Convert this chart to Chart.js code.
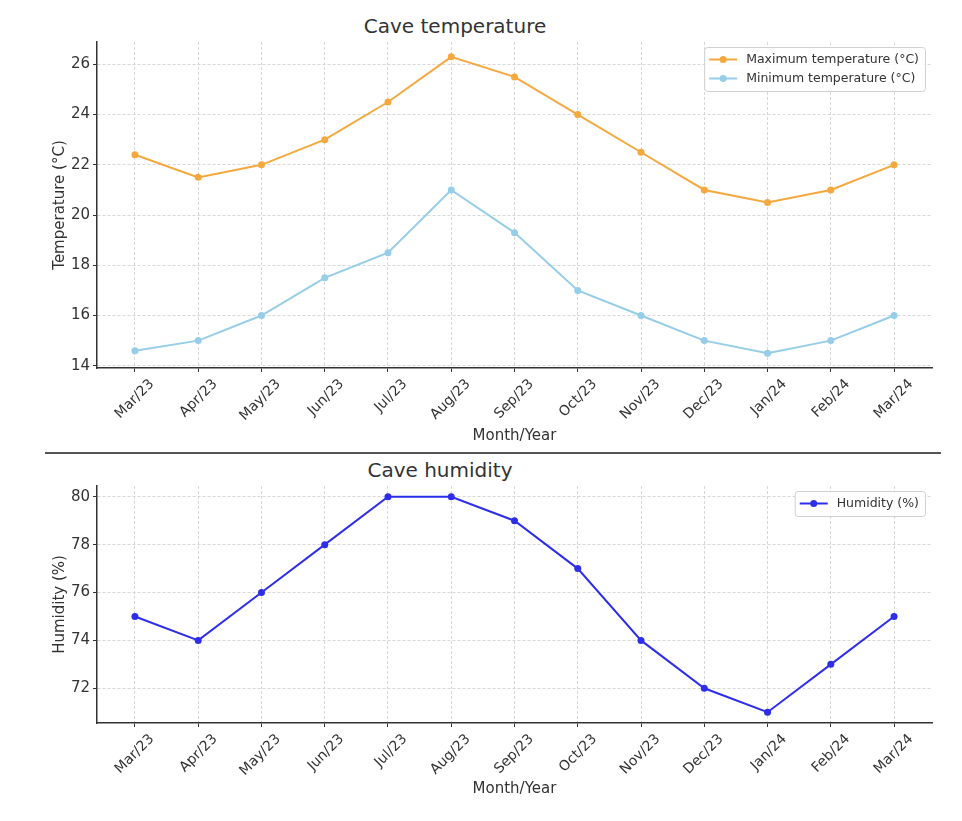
<!DOCTYPE html>
<html>
<head>
<meta charset="utf-8">
<script src="https://cdn.jsdelivr.net/npm/chart.js@4/dist/chart.umd.min.js"></script>
<style>
  html, body { margin: 0; padding: 0; background: #fff; }
  #wrap { position: relative; width: 962px; height: 821px; overflow: hidden; font-family: "DejaVu Sans", sans-serif; }
  canvas { position: absolute; left: 0; }
  .ttl { position: absolute; text-align: center; font-size: 20px; line-height: 24px; color: #333; font-family: "DejaVu Sans", sans-serif; }
  #sep { position: absolute; left: 45px; top: 452px; width: 896px; height: 2px; background: #555; }
</style>
</head>
<body>
<div id="wrap">
  <div class="ttl" style="left:0;width:910px;top:14px;">Cave temperature</div>
  <canvas id="c1" width="962" height="450" style="top:0;width:962px;height:450px;"></canvas>
  <div id="sep"></div>
  <div class="ttl" style="left:0;width:880px;top:458px;">Cave humidity</div>
  <canvas id="c2" width="962" height="366" style="top:455px;width:962px;height:366px;"></canvas>
</div>
<script>
const months = ['Mar/23','Apr/23','May/23','Jun/23','Jul/23','Aug/23','Sep/23','Oct/23','Nov/23','Dec/23','Jan/24','Feb/24','Mar/24'];
const maxTemp = [22.4, 21.5, 22.0, 23.0, 24.5, 26.3, 25.5, 24.0, 22.5, 21.0, 20.5, 21.0, 22.0];
const minTemp = [14.6, 15.0, 16.0, 17.5, 18.5, 21.0, 19.3, 17.0, 16.0, 15.0, 14.5, 15.0, 16.0];
const humidity = [75, 74, 76, 78, 80, 80, 79, 77, 74, 72, 71, 73, 75];
const tempTicks = [14, 16, 18, 20, 22, 24, 26];
const humTicks = [72, 74, 76, 78, 80];

Chart.defaults.font.family = '"DejaVu Sans", sans-serif';
Chart.defaults.color = '#333';

const inLegend = {
  id: 'inLegend',
  afterDraw(chart) {
    const ctx = chart.ctx, ca = chart.chartArea;
    const ds = chart.data.datasets;
    ctx.save();
    ctx.font = '12.5px "DejaVu Sans", sans-serif';
    let tw = 0;
    ds.forEach(d => { tw = Math.max(tw, ctx.measureText(d.label).width); });
    const rowH = 19, pad = 4;
    const w = 42 + tw + 6, h = ds.length * rowH + pad * 2 - 2;
    const x = ca.right - 7 - w, y = ca.top + 5;
    ctx.fillStyle = 'rgba(255,255,255,0.85)';
    ctx.strokeStyle = '#d0d0d0';
    ctx.lineWidth = 1;
    ctx.beginPath();
    ctx.roundRect(x + 0.5, y + 0.5, w, h, 3);
    ctx.fill(); ctx.stroke();
    ds.forEach((d, i) => {
      const cy = y + pad + rowH / 2 + i * rowH - 1;
      ctx.strokeStyle = d.borderColor; ctx.lineWidth = 2;
      ctx.beginPath(); ctx.moveTo(x + 5, cy); ctx.lineTo(x + 33, cy); ctx.stroke();
      ctx.fillStyle = d.borderColor;
      ctx.beginPath(); ctx.arc(x + 19, cy, 3.5, 0, Math.PI * 2); ctx.fill();
      ctx.fillStyle = '#333'; ctx.textBaseline = 'middle'; ctx.textAlign = 'left';
      ctx.fillText(d.label, x + 42, cy);
    });
    ctx.restore();
  }
};

function series(label, vals, color) {
  return {
    label,
    data: vals.map((v, i) => ({ x: i, y: v })),
    borderColor: color,
    backgroundColor: color,
    borderWidth: 2,
    pointRadius: 3.5,
    pointHoverRadius: 3.5,
    pointBorderWidth: 0,
    tension: 0
  };
}

function makeChart(id, datasets, yTicks, yMin, yMax, yTitle, padTop, padBottom, xHeight) {
  const gridCommon = {
    color: '#d2d2d2', lineWidth: 0.9, drawTicks: true, tickLength: 4,
    tickColor: '#333', tickWidth: 1
  };
  return new Chart(document.getElementById(id), {
    type: 'line',
    data: { datasets },
    plugins: [inLegend],
    options: {
      responsive: false,
      animation: false,
      events: [],
      layout: { padding: { left: 47, right: 30, top: padTop, bottom: padBottom } },
      plugins: { legend: { display: false }, title: { display: false }, tooltip: { enabled: false } },
      scales: {
        x: {
          type: 'linear', min: -0.6, max: months.length - 1 + 0.6,
          afterBuildTicks: s => { s.ticks = months.map((_, i) => ({ value: i })); },
          afterFit: s => { s.height = xHeight; },
          ticks: {
            callback: v => months[v],
            maxRotation: 45, minRotation: 45, autoSkip: false,
            labelOffset: 17, padding: 4,
            font: { size: 14 }, color: '#333'
          },
          grid: gridCommon,
          border: { display: true, color: '#333', width: 1.5, dash: [3, 2] },
          title: { display: true, text: 'Month/Year', font: { size: 15 }, color: '#333', padding: { top: 4, bottom: 5 } }
        },
        y: {
          min: yMin, max: yMax,
          afterBuildTicks: s => { s.ticks = yTicks.map(v => ({ value: v })); },
          afterFit: s => { s.width = 50; },
          ticks: { font: { size: 15 }, color: '#333', padding: 3 },
          grid: gridCommon,
          border: { display: true, color: '#333', width: 1.5, dash: [3, 2] },
          title: { display: true, text: yTitle, font: { size: 15 }, color: '#333', padding: { top: 4, bottom: 4 } }
        }
      }
    }
  });
}

makeChart('c1', [
  series('Maximum temperature (°C)', maxTemp, '#F5A83E'),
  series('Minimum temperature (°C)', minTemp, '#96CDE8')
], tempTicks, 13.91, 26.89, 'Temperature (°C)', 42, 0, 82);

makeChart('c2', [
  series('Humidity (%)', humidity, '#2E2EEA')
], humTicks, 70.55, 80.45, 'Humidity (%)', 31, 18, 80);
</script>
</body>
</html>
